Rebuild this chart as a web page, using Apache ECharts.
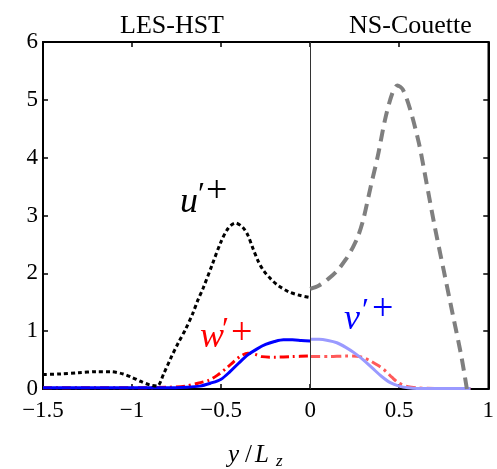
<!DOCTYPE html>
<html><head><meta charset="utf-8">
<script src="https://cdn.jsdelivr.net/npm/echarts@6/dist/echarts.min.js"></script>
<style>html,body{margin:0;padding:0;background:#fff}#c{width:497px;height:469px}</style>
</head><body><div id="c"></div>
<script>
// LES-HST (y < 0)
const lesUx = [-1.5,-1.4,-1.3,-1.2,-1.12,-1.05,-1.0,-0.95,-0.9,-0.86,-0.82,-0.78,-0.74,-0.7,-0.66,-0.63,-0.6,-0.55,-0.5,-0.46,-0.42,-0.38,-0.35,-0.32,-0.29,-0.26,-0.22,-0.18,-0.12,-0.06,0];
const lesU  = [0.25,0.26,0.28,0.30,0.30,0.26,0.2,0.13,0.07,0.05,0.28,0.55,0.8,1.03,1.3,1.54,1.75,2.15,2.55,2.78,2.87,2.8,2.66,2.42,2.2,2.04,1.9,1.79,1.68,1.62,1.58];
const lesVx = [-1.5,-1.0,-0.8,-0.7,-0.62,-0.56,-0.5,-0.45,-0.4,-0.35,-0.3,-0.25,-0.2,-0.15,-0.1,-0.05,0];
const lesV  = [0.02,0.02,0.02,0.03,0.05,0.1,0.17,0.3,0.45,0.59,0.69,0.77,0.82,0.85,0.85,0.84,0.83];
const lesWx = [-1.5,-1.0,-0.8,-0.7,-0.63,-0.57,-0.52,-0.47,-0.43,-0.39,-0.35,-0.31,-0.27,-0.2,-0.1,0];
const lesW  = [0.02,0.02,0.03,0.05,0.1,0.15,0.24,0.36,0.47,0.57,0.62,0.6,0.56,0.55,0.56,0.57];
// NS-Couette (y > 0)
const nsUx = [0,0.05,0.1,0.15,0.2,0.24,0.27,0.3,0.34,0.38,0.42,0.46,0.49,0.52,0.56,0.61,0.65,0.7,0.75,0.8,0.85,0.88];
const nsU  = [1.73,1.79,1.9,2.04,2.24,2.45,2.65,2.95,3.5,4.03,4.65,5.1,5.25,5.18,4.85,4.26,3.62,2.8,2.05,1.3,0.55,0.0];
const nsVx = [0,0.05,0.1,0.15,0.2,0.25,0.3,0.35,0.4,0.45,0.5,0.55,0.6,0.7,0.8,0.9];
const nsV  = [0.86,0.86,0.84,0.8,0.72,0.62,0.5,0.36,0.22,0.11,0.05,0.02,0.01,0.01,0.01,0.01];
const nsWx = [0,0.1,0.2,0.28,0.33,0.38,0.42,0.46,0.5,0.55,0.6,0.7,0.8,0.9];
const nsW  = [0.56,0.56,0.57,0.56,0.5,0.41,0.32,0.2,0.1,0.04,0.02,0.01,0.01,0.01];
const xTicks = [-1.5,-1,-0.5,0,0.5,1];
const yTicks = [0,1,2,3,4,5,6];

const pairs = (xs, ys) => xs.map((x, i) => [x, ys[i]]);
const FONT = 'Liberation Serif';
const fmtX = v => (v < 0 ? '\u2212' + String(-v) : String(v));

const chart = echarts.init(document.getElementById('c'), null, {renderer: 'canvas'});
const line = (name, data, color, width, type, z) => ({
  name, type: 'line', data, smooth: 0.3, showSymbol: false, symbol: 'none',
  lineStyle: {color, width, type, cap: 'butt'}, z: z || 2, silent: true, animation: false
});
const axisCommon = {
  axisLine: {show: true, onZero: false, lineStyle: {color: '#000', width: 2}},
  axisTick: {show: true, inside: true, length: 5, lineStyle: {color: '#000', width: 1.5}},
  splitLine: {show: false}
};
chart.setOption({
  animation: false,
  textStyle: {fontFamily: FONT},
  grid: {left: 43, right: 3, top: 42, bottom: 80, show: true, borderColor: '#000', borderWidth: 1.5},
  xAxis: [
    Object.assign({type: 'value', min: -1.5, max: 1, interval: 0.5, position: 'bottom',
     axisLabel: {fontFamily: FONT, fontSize: 23, color: '#000', margin: 10, formatter: fmtX}}, axisCommon),
    Object.assign({type: 'value', min: -1.5, max: 1, interval: 0.5, position: 'top',
     axisLabel: {show: false}}, axisCommon)
  ],
  yAxis: [
    Object.assign({type: 'value', min: 0, max: 6, interval: 1, position: 'left',
     axisLabel: {fontFamily: FONT, fontSize: 23, color: '#000', margin: 5}}, axisCommon),
    Object.assign({type: 'value', min: 0, max: 6, interval: 1, position: 'right',
     axisLabel: {show: false}}, axisCommon)
  ],
  series: [
    line('lesW', pairs(lesWx, lesW), '#ff0000', 3, [9, 4, 2, 4], 3),
    line('lesV', pairs(lesVx, lesV), '#0000ff', 3, 'solid', 4),
    Object.assign(line('lesU', pairs(lesUx, lesU), '#000000', 3, [4, 3], 5), {
      markLine: {silent: true, symbol: 'none', label: {show: false},
        lineStyle: {color: '#333', width: 1, type: 'solid'}, data: [{xAxis: 0}]}
    }),
    line('nsW', pairs(nsWx, nsW), '#ff5a5a', 3, [10, 4, 3, 4], 3),
    line('nsV', pairs(nsVx, nsV), '#9a9aff', 3, 'solid', 4),
    line('nsU', pairs(nsUx, nsU), '#7f7f7f', 4, [12, 7], 5)
  ],
  graphic: [
    {type: 'text', left: 120, top: 13, style: {text: 'LES-HST', font: '26px ' + FONT, fill: '#000'}},
    {type: 'text', left: 349, top: 13, style: {text: 'NS-Couette', font: '26px ' + FONT, fill: '#000'}},
    // axis title y / L_z
    {type: 'text', left: 228, top: 443, style: {text: 'y', font: 'italic 25px ' + FONT, fill: '#000'}},
    {type: 'text', left: 245, top: 443, style: {text: '/', font: '25px ' + FONT, fill: '#000'}},
    {type: 'text', left: 255, top: 443, style: {text: 'L', font: 'italic 25px ' + FONT, fill: '#000'}},
    {type: 'text', left: 276, top: 453, style: {text: 'z', font: 'italic 17px ' + FONT, fill: '#000'}},
    // annotations
    {type: 'text', left: 180, top: 185, style: {text: 'u', font: 'italic 36px ' + FONT, fill: '#000'}},
    {type: 'text', left: 198, top: 180, style: {text: '\u2032', font: '32px ' + FONT, fill: '#000'}},
    {type: 'text', left: 206, top: 173, style: {text: '+', font: '38px ' + FONT, fill: '#000'}},
    {type: 'text', left: 200, top: 320, style: {text: 'w', font: 'italic 36px ' + FONT, fill: '#ff0000'}},
    {type: 'text', left: 222, top: 315, style: {text: '\u2032', font: '32px ' + FONT, fill: '#ff0000'}},
    {type: 'text', left: 231, top: 315, style: {text: '+', font: '38px ' + FONT, fill: '#ff0000'}},
    {type: 'text', left: 344, top: 302, style: {text: 'v', font: 'italic 36px ' + FONT, fill: '#0000ff'}},
    {type: 'text', left: 362, top: 296, style: {text: '\u2032', font: '32px ' + FONT, fill: '#0000ff'}},
    {type: 'text', left: 372, top: 291, style: {text: '+', font: '38px ' + FONT, fill: '#0000ff'}}
  ]
});
</script></body></html>
